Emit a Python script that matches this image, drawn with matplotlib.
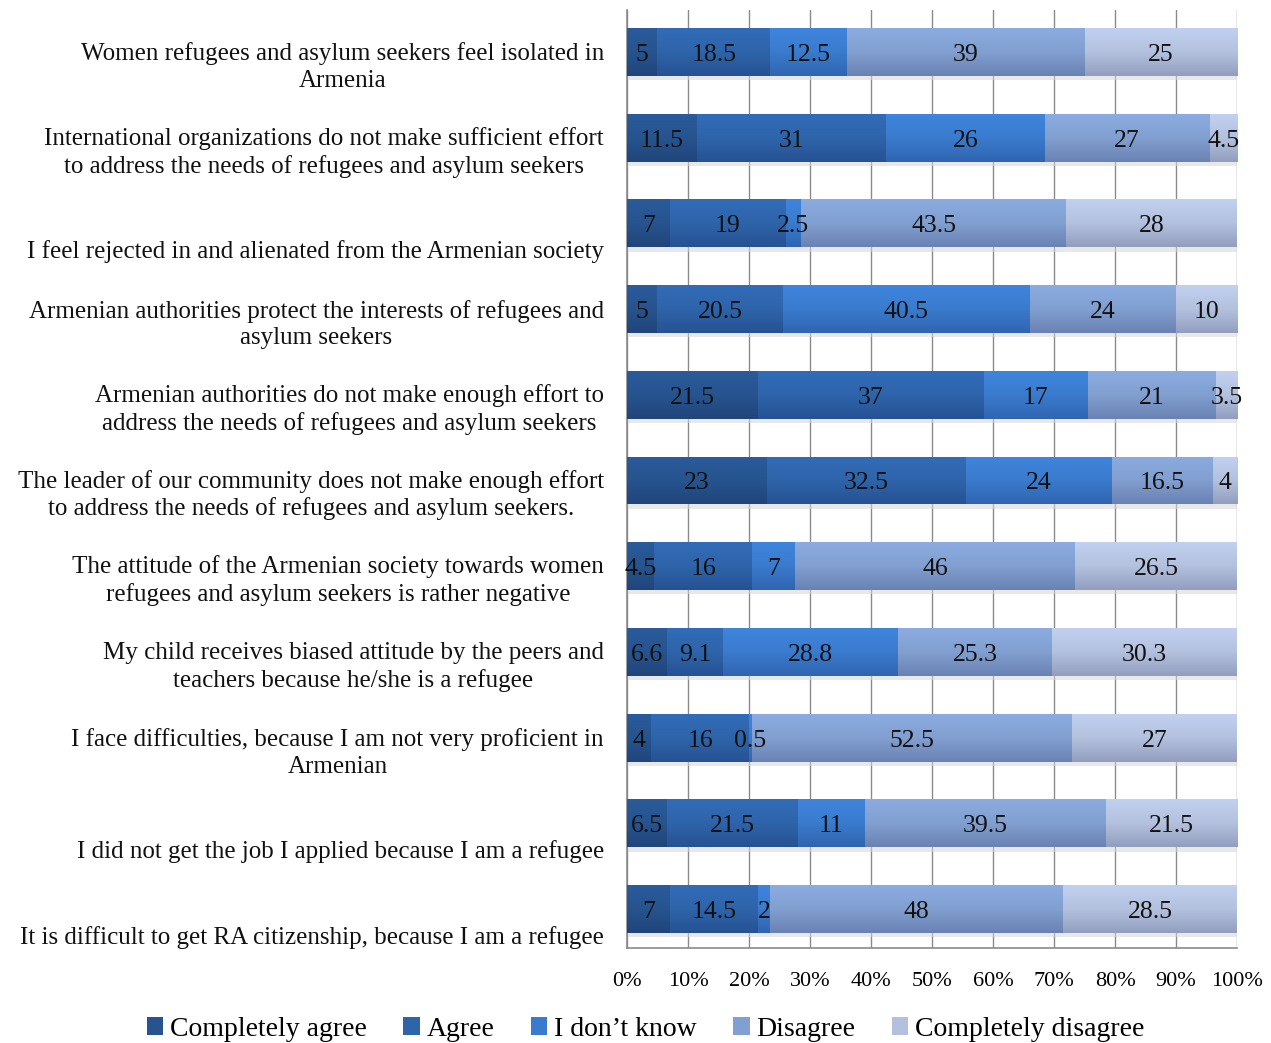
import numpy as np
import matplotlib.pyplot as plt
from matplotlib.colors import LinearSegmentedColormap, to_rgb
from matplotlib.patches import Patch

SERIF = ['Liberation Serif', 'DejaVu Serif']
plt.rcParams['font.family'] = SERIF

statements = [
    "Women refugees and asylum seekers feel isolated in\nArmenia",
    "International organizations do not make sufficient effort\nto address the needs of refugees and asylum seekers",
    "I feel rejected in and alienated from the Armenian society",
    "Armenian authorities protect the interests of refugees and\nasylum seekers",
    "Armenian authorities do not make enough effort to\naddress the needs of refugees and asylum seekers",
    "The leader of our community does not make enough effort\nto address the needs of refugees and asylum seekers.",
    "The attitude of the Armenian society towards women\nrefugees and asylum seekers is rather negative",
    "My child receives biased attitude by the peers and\nteachers because he/she is a refugee",
    "I face difficulties, because I am not very proficient in\nArmenian",
    "I did not get the job I applied because I am a refugee",
    "It is difficult to get RA citizenship, because I am a refugee",
]
answers = ["Completely agree", "Agree", "I don\u2019t know", "Disagree", "Completely disagree"]

completely_agree    = [5, 11.5, 7, 5, 21.5, 23, 4.5, 6.6, 4, 6.5, 7]
agree               = [18.5, 31, 19, 20.5, 37, 32.5, 16, 9.1, 16, 21.5, 14.5]
dont_know           = [12.5, 26, 2.5, 40.5, 17, 24, 7, 28.8, 0.5, 11, 2]
disagree            = [39, 27, 43.5, 24, 21, 16.5, 46, 25.3, 52.5, 39.5, 48]
completely_disagree = [25, 4.5, 28, 10, 3.5, 4, 26.5, 30.3, 27, 21.5, 28.5]

series = [completely_agree, agree, dont_know, disagree, completely_disagree]
colors = ["#27548f", "#2e64aa", "#3a7bcd", "#819fd0", "#b3c1de"]

fig = plt.figure(figsize=(12.71, 10.43), dpi=100)
ax = fig.add_axes([0.4933, 0.0911, 0.48, 0.8993])

n = len(statements)
y = np.arange(n)
totals = np.sum(series, axis=0)
height = 0.56

# vertical shading for each bar segment (lighter top, darker bottom)
grad = np.linspace(0, 1, 64).reshape(-1, 1)

left = np.zeros(n)
for vals, col in zip(series, colors):
    pct = np.array(vals) / totals * 100
    # soft drop shadow
    ax.barh(y + 0.05, pct, height, left=left, color="#d6d6d6", alpha=0.55,
            linewidth=0, zorder=2)
    bars = ax.barh(y, pct, height, left=left, color=col, linewidth=0, zorder=3)
    r, g, b = to_rgb(col)
    cmap = LinearSegmentedColormap.from_list(
        "shade", [(min(r * 1.08, 1), min(g * 1.08, 1), min(b * 1.08, 1)),
                  (r, g, b),
                  (r * 0.82, g * 0.82, b * 0.86)])
    for bar, v, p, l in zip(bars, vals, pct, left):
        x0, y0 = bar.get_x(), bar.get_y()
        im = ax.imshow(grad, cmap=cmap, aspect="auto", interpolation="bicubic",
                       extent=(x0, x0 + bar.get_width(), y0 + height, y0),
                       zorder=3.5)
        im.set_clip_path(bar)
        ax.annotate(f"{v:g}", xy=(l + p / 2, y0 + height / 2),
                    xytext=(0, -9), textcoords="offset pixels",
                    ha="center", va="baseline", fontsize=18.5,
                    color="#111111", zorder=5)
    left += pct

ax.set_xlim(0, 100)
ax.set_ylim(n - 1 + 0.455, -0.49)
ax.set_xticks(np.arange(0, 101, 10))
ax.set_xticklabels([f"{t}%" for t in range(0, 101, 10)], fontsize=16)
ax.tick_params(axis="x", length=0, pad=17)
ax.set_yticks([])
ax.grid(axis="x", color="#8a8a8a", linewidth=1.0, zorder=1)
ax.set_axisbelow(True)
for s in ["top", "right"]:
    ax.spines[s].set_visible(False)
ax.spines["left"].set_color("#8a8a8a")
ax.spines["bottom"].set_color("#8a8a8a")
ax.spines["left"].set_linewidth(1.2)
ax.spines["bottom"].set_linewidth(1.2)

# statement labels: baseline of the last line sits below the bar centre
for yi, s in zip(y, statements):
    ax.annotate(s, xy=(0, yi), xycoords=("axes fraction", "data"),
                xytext=(-23, -35), textcoords="offset pixels",
                ha="right", va="baseline", multialignment="center",
                fontsize=18, linespacing=1.27, color="#111111")

handles = [Patch(facecolor=c, edgecolor="none") for c in colors]
fig.legend(handles, answers, loc="center", bbox_to_anchor=(0.508, 0.013),
           ncol=5, frameon=False, prop={"family": SERIF, "size": 20},
           handlelength=0.6, handleheight=0.6,
           handletextpad=0.25, columnspacing=1.3)

fig.savefig("out.png", dpi=100)
